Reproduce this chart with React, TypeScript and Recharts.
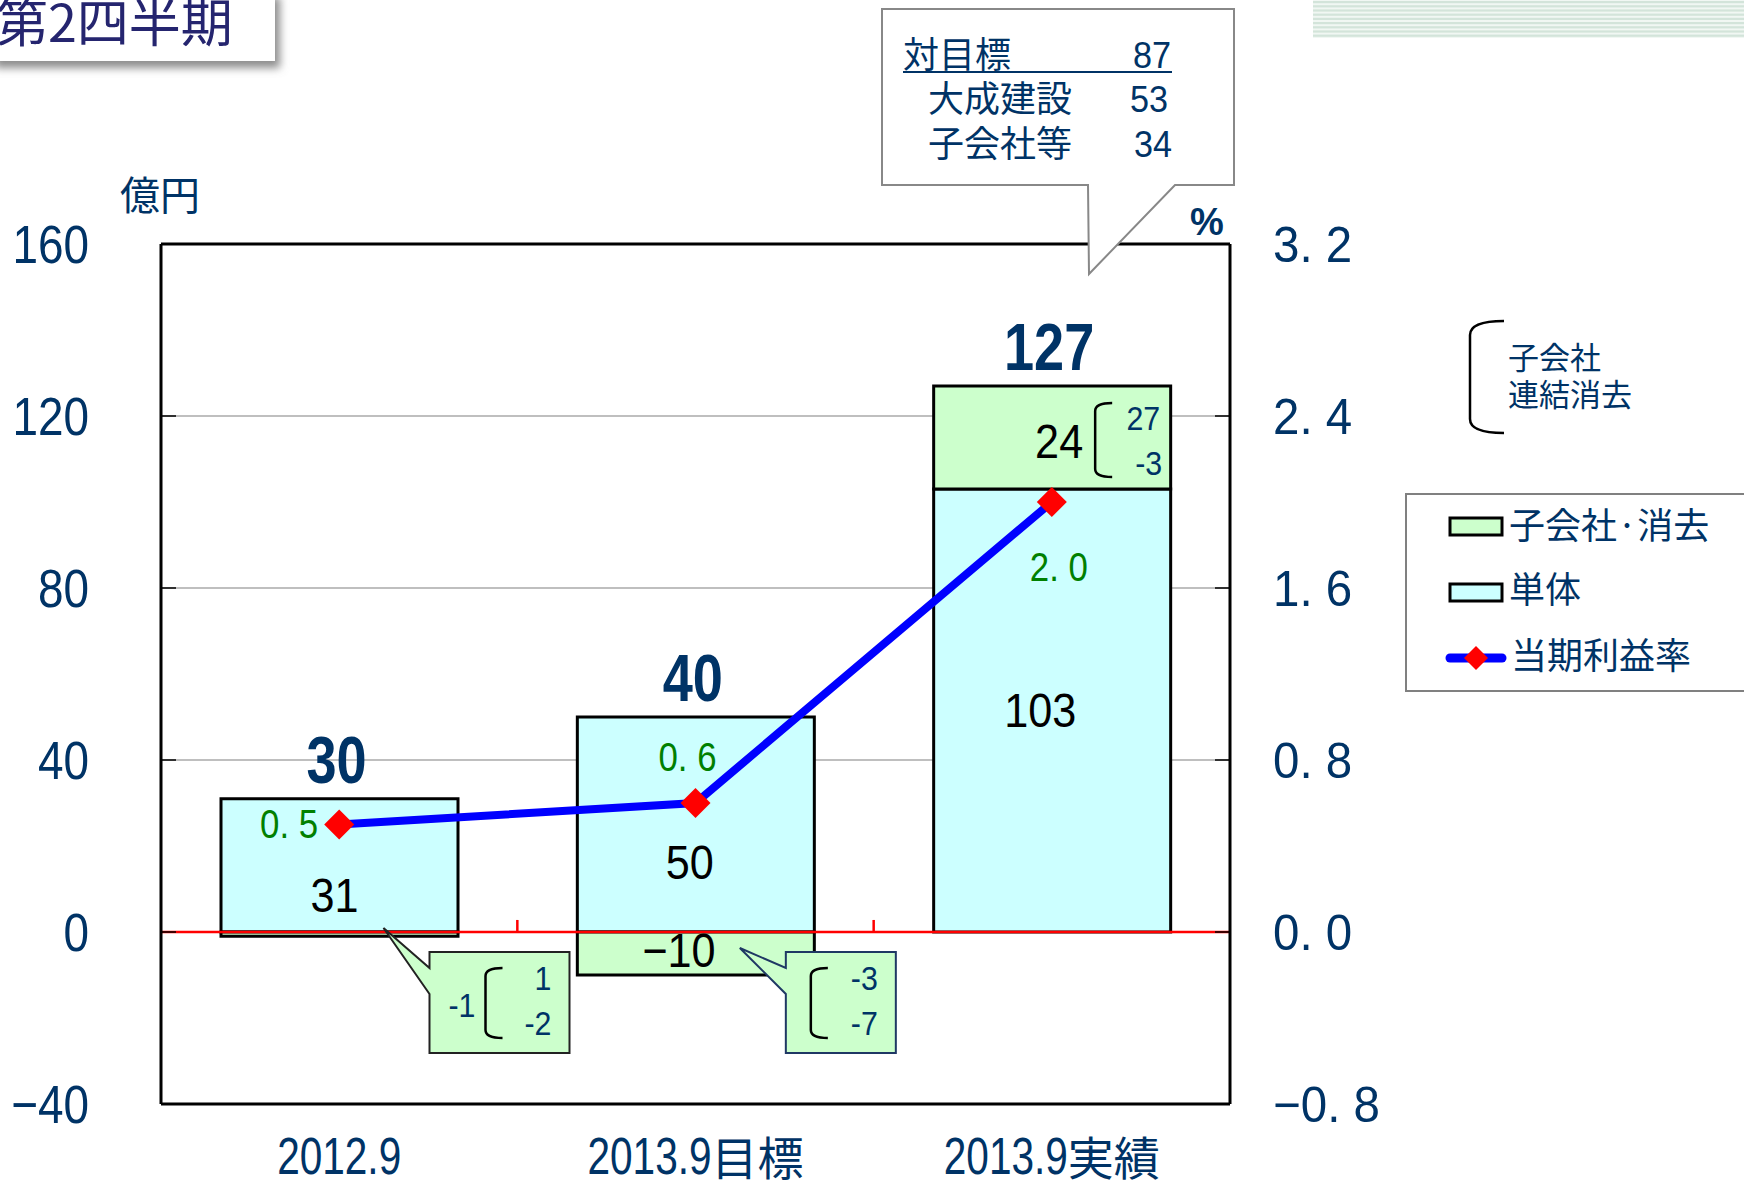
import React from 'react';
import {
  ComposedChart, Bar, Line, XAxis, YAxis, CartesianGrid, ReferenceLine, LabelList, Legend,
} from 'recharts';

// ---------- data ----------
const categories = ['2012.9', '2013.9目標', '2013.9実績'];
const standalone = [31, 50, 103];          // 単体
const subsidiaryNet = [-1, -10, 24];       // 子会社・消去
const subsidiaryProfit = [1, -3, 27];      // 子会社
const consolidationElim = [-2, -7, -3];    // 連結消去
const profitRate = [0.5, 0.6, 2.0];        // 当期利益率 (%)
const leftTicks = [-40, 0, 40, 80, 120, 160];
const rightTicks = [-0.8, 0, 0.8, 1.6, 2.4, 3.2];

const totals = standalone.map((v, i) => v + subsidiaryNet[i]);
const data = categories.map((name, i) => ({
  name, standalone: standalone[i], subsidiary: subsidiaryNet[i], rate: profitRate[i],
}));

// ---------- style / layout ----------
const NAVY = '#003366';
const GREEN_TXT = '#008000';
const NUM = '"Liberation Sans", Arial, sans-serif';
const JP = '"Noto Sans CJK JP", "Noto Sans CJK SC", sans-serif';
const rateLabelPlacement = ['left', 'top', 'bottom'];
const standaloneLabelDx = [-5, -6, -12];
const standaloneLabelDy = [47, 54, 16];

const Txt = ({ x, y, children, size, sx = 1, anchor = 'start', fill = NAVY, weight = 400, family = NUM }: any) => (
  <text
    transform={`translate(${x},${y}) scale(${sx},1)`}
    fontSize={size}
    textAnchor={anchor}
    fill={fill}
    fontWeight={weight}
    fontFamily={family}
  >
    {children}
  </text>
);

const Diamond = ({ cx, cy, r = 15 }: any) => (
  <path d={`M${cx},${cy - r}L${cx + r},${cy}L${cx},${cy + r}L${cx - r},${cy}Z`} fill="#FF0000" />
);

const Bracket = ({ x1, x2, y1, y2, r = 8 }: any) => (
  <path
    d={`M${x2},${y1} Q${x1},${y1} ${x1},${y1 + r} L${x1},${y2 - r} Q${x1},${y2} ${x2},${y2}`}
    fill="none" stroke="#000" strokeWidth={2.5}
  />
);

const getRect = (p: any) => {
  const vb = p.viewBox || p;
  const x = vb.x, y = vb.y, w = vb.width || 0, h = vb.height || 0;
  return { left: Math.min(x, x + w), right: Math.max(x, x + w), top: Math.min(y, y + h), bottom: Math.max(y, y + h) };
};

const fmtAxis = (v: number) => String(v).replace('-', '−');
const fmtPct = (v: number) => v.toFixed(1).replace('.', '. ').replace('-', '−');

const LeftTick = (p: any) => (
  <Txt x={p.x} y={p.y + 19} size={54} sx={0.85} anchor="end">{fmtAxis(p.payload.value)}</Txt>
);
const RightTick = (p: any) => (
  <Txt x={p.x} y={p.y + 18} size={50} sx={0.95} anchor="start">{fmtPct(p.payload.value)}</Txt>
);

const CatTick = (p: any) => {
  const label: string = p.payload.value;
  const m = label.match(/^[\d.]+/);
  const num = m ? m[0] : '';
  const rest = label.slice(num.length);
  const numSize = 52, sx = 0.78, jpSize = 46;
  const numW = [...num].reduce((s, c) => s + (c === '.' ? 0.278 : 0.556), 0) * numSize * sx;
  const W = numW + rest.length * jpSize;
  const x0 = p.x - W / 2;
  const base = p.y + 70;
  return (
    <g>
      <Txt x={x0} y={base} size={numSize} sx={sx}>{num}</Txt>
      {rest && <Txt x={x0 + numW} y={base + 1} size={jpSize} family={JP}>{rest}</Txt>}
    </g>
  );
};

const TotalLabel = ({ cx, top, i }: any) => (
  <Txt x={cx - 3} y={top - 16} size={66} sx={0.82} anchor="middle" weight={700}>{totals[i]}</Txt>
);

const StandaloneLabel = (p: any) => {
  const i = p.index;
  const r = getRect(p);
  const cx = (r.left + r.right) / 2;
  const cy = (r.top + r.bottom) / 2;
  return (
    <g>
      <Txt x={cx + standaloneLabelDx[i]} y={cy + standaloneLabelDy[i]} size={48} sx={0.9} anchor="middle" fill="#000">
        {standalone[i]}
      </Txt>
      {subsidiaryNet[i] <= 0 && <TotalLabel cx={cx} top={r.top} i={i} />}
    </g>
  );
};

const SubLabel = (p: any) => {
  const i = p.index;
  const r = getRect(p);
  const cx = (r.left + r.right) / 2;
  const net = subsidiaryNet[i];
  if (net > 0) {
    const top = r.top;
    return (
      <g>
        <TotalLabel cx={cx} top={top} i={i} />
        <Txt x={cx + 31} y={top + 72} size={48} sx={0.9} anchor="end" fill="#000">{net}</Txt>
        <Bracket x1={cx + 43} x2={cx + 60} y1={top + 17} y2={top + 91} />
        <Txt x={cx + 108} y={top + 44} size={33} sx={0.92} anchor="end">{subsidiaryProfit[i]}</Txt>
        <Txt x={cx + 110} y={top + 89} size={33} sx={0.92} anchor="end">{consolidationElim[i]}</Txt>
      </g>
    );
  }
  const zero = r.top;
  const big = r.bottom - r.top >= 30;
  const L = cx + 90;
  const W = big ? 110 : 140;
  const T = zero + 20;
  const B = zero + 121;
  const tipX = cx + 44;
  const tipY = big ? zero + 16 : zero - 4;
  const path = `M${L},${T} H${L + W} V${B} H${L} V${zero + 62} L${tipX},${tipY} L${L},${zero + 36} Z`;
  const bx = L + (big ? 25 : 56);
  return (
    <g>
      {big && (
        <Txt x={cx - 17} y={(r.top + r.bottom) / 2 + 13} size={48} sx={0.9} anchor="middle" fill="#000">
          {fmtAxis(net)}
        </Txt>
      )}
      <path d={path} fill="#CCFFCC" stroke={big ? '#1F3864' : '#222'} strokeWidth={2} />
      {!big && <Txt x={L + 46} y={zero + 85} size={33} sx={0.92} anchor="end">{net}</Txt>}
      <Bracket x1={bx} x2={bx + 17} y1={zero + 36} y2={zero + 106} />
      <Txt x={L + W - 18} y={zero + 58} size={33} sx={0.92} anchor="end">{subsidiaryProfit[i]}</Txt>
      <Txt x={L + W - 18} y={zero + 103} size={33} sx={0.92} anchor="end">{consolidationElim[i]}</Txt>
    </g>
  );
};

const RateLabel = (p: any) => {
  const vb = p.viewBox || p;
  const cx = vb.x ?? p.x;
  const cy = vb.y ?? p.y;
  const i = p.index;
  const pl = rateLabelPlacement[i];
  let x = cx, y = cy, anchor = 'middle';
  if (pl === 'left') { x = cx - 21; y = cy + 13; anchor = 'end'; }
  else if (pl === 'top') { x = cx - 8; y = cy - 32; }
  else { x = cx + 7; y = cy + 79; }
  return <Txt x={x} y={y} size={40} sx={0.87} anchor={anchor} fill={GREEN_TXT}>{fmtPct(profitRate[i])}</Txt>;
};

const renderLegend = () => (
  <svg width={339} height={200} style={{ display: 'block' }}>
    <rect x={1} y={1} width={400} height={197} fill="#fff" stroke="#808080" strokeWidth={2} />
    <rect x={45} y={25} width={52} height={17} fill="#CCFFCC" stroke="#000" strokeWidth={3} />
    <text x={104} y={46} fontSize={36} fontFamily={JP} fill={NAVY}>子会社·消去</text>
    <rect x={45} y={91} width={52} height={17} fill="#CCFFFF" stroke="#000" strokeWidth={3} />
    <text x={104} y={110} fontSize={36} fontFamily={JP} fill={NAVY}>単体</text>
    <line x1={45} y1={165} x2={97} y2={165} stroke="#0000FF" strokeWidth={9} strokeLinecap="round" />
    <Diamond cx={71} cy={165} r={12} />
    <text x={106} y={176} fontSize={36} fontFamily={JP} fill={NAVY}>当期利益率</text>
  </svg>
);

const Overlay = () => {
  const tgtTotal = totals[2] - totals[1];
  const tgtParent = standalone[2] - standalone[1];
  const tgtSub = subsidiaryNet[2] - subsidiaryNet[1];
  const stripes = Array.from({ length: 9 }, (_, k) => k);
  return (
    <svg width={1744} height={1183} style={{ position: 'absolute', left: 0, top: 0, pointerEvents: 'none' }}>
      <defs>
        <filter id="shadow" x="-10%" y="-20%" width="130%" height="160%">
          <feDropShadow dx={5} dy={7} stdDeviation={4} floodColor="#808080" floodOpacity={0.9} />
        </filter>
      </defs>
      {/* title */}
      <rect x={-10} y={-10} width={285} height={71} fill="#fff" filter="url(#shadow)" />
      <text x={-4} y={42} fontSize={52} fontFamily={JP} fill="#25256F">第2四半期</text>
      {/* stripes top-right */}
      <rect x={1313} y={0} width={431} height={38} fill="#F1F7F3" />
      {stripes.map((k) => (
        <rect key={k} x={1313} y={k * 4.2 + 1} width={431} height={2.2} fill="#D3E4DA" />
      ))}
      {/* axis units */}
      <text x={120} y={210} fontSize={40} fontFamily={JP} fill={NAVY}>億円</text>
      <text x={1190} y={235} fontSize={38} fontFamily={NUM} fontWeight={700} fill={NAVY}>%</text>
      {/* target callout */}
      <path d="M882,9 H1234 V185 H1175 L1089,274 L1088,185 H882 Z" fill="#fff" stroke="#888" strokeWidth={2} />
      <text x={903} y={68} fontSize={36} fontFamily={JP} fill={NAVY}>対目標</text>
      <Txt x={1171} y={68} size={36} sx={0.95} anchor="end">{tgtTotal}</Txt>
      <line x1={903} y1={72} x2={1172} y2={72} stroke={NAVY} strokeWidth={2} />
      <text x={928} y={112} fontSize={36} fontFamily={JP} fill={NAVY}>大成建設</text>
      <Txt x={1168} y={112} size={36} sx={0.95} anchor="end">{tgtParent}</Txt>
      <text x={928} y={157} fontSize={36} fontFamily={JP} fill={NAVY}>子会社等</text>
      <Txt x={1172} y={157} size={36} sx={0.95} anchor="end">{tgtSub}</Txt>
      {/* bracket note */}
      <Bracket x1={1470} x2={1504} y1={321} y2={433} r={14} />
      <text x={1508} y={369} fontSize={31} fontFamily={JP} fill={NAVY}>子会社</text>
      <text x={1508} y={406} fontSize={31} fontFamily={JP} fill={NAVY}>連結消去</text>
    </svg>
  );
};

export default function App() {
  return (
    <div style={{ position: 'absolute', left: 0, top: 0, width: 1744, height: 1183, overflow: 'hidden', background: '#fff' }}>
      <ComposedChart
        width={1744}
        height={1183}
        data={data}
        margin={{ top: 244, right: 364, bottom: 9, left: 11 }}
        stackOffset="sign"
        barGap={0}
      >
        <CartesianGrid yAxisId="left" vertical={false} stroke="#BFBFBF" strokeWidth={2} />
        <XAxis
          dataKey="name"
          height={70}
          axisLine={false}
          tickLine={false}
          tickSize={0}
          tickMargin={0}
          interval={0}
          tick={<CatTick />}
        />
        <YAxis
          yAxisId="left"
          width={150}
          domain={[-40, 160]}
          ticks={leftTicks}
          allowDataOverflow
          axisLine={{ stroke: '#000', strokeWidth: 3 }}
          tickLine={{ stroke: '#000', strokeWidth: 1.5 }}
          tickSize={-15}
          tickMargin={87}
          tick={<LeftTick />}
        />
        <YAxis
          yAxisId="right"
          orientation="right"
          width={150}
          domain={[-0.8, 3.2]}
          ticks={rightTicks}
          allowDataOverflow
          axisLine={{ stroke: '#000', strokeWidth: 3 }}
          tickLine={{ stroke: '#000', strokeWidth: 1.5 }}
          tickSize={-15}
          tickMargin={58}
          tick={<RightTick />}
        />
        <Bar yAxisId="left" dataKey="standalone" stackId="a" fill="#CCFFFF" stroke="#000" strokeWidth={3}
          barSize={237} isAnimationActive={false}>
          <LabelList content={(p: any) => <StandaloneLabel {...p} />} />
        </Bar>
        <Bar yAxisId="left" dataKey="subsidiary" stackId="a" fill="#CCFFCC" stroke="#000" strokeWidth={3}
          barSize={237} isAnimationActive={false}>
          <LabelList content={(p: any) => <SubLabel {...p} />} />
        </Bar>
        <ReferenceLine yAxisId="left" y={160} stroke="#000" strokeWidth={3} />
        <ReferenceLine yAxisId="left" y={-40} stroke="#000" strokeWidth={3} />
        <ReferenceLine yAxisId="left" y={0} stroke="#FF0000" strokeWidth={2.5} />
        {categories.slice(1).map((c) => (
          <ReferenceLine key={c} yAxisId="left" stroke="#FF0000" strokeWidth={2.5} position="start"
            segment={[{ x: c, y: 0 }, { x: c, y: 2.8 }]} />
        ))}
        <Line yAxisId="right" dataKey="rate" stroke="#0000FF" strokeWidth={8} isAnimationActive={false}
          dot={(p: any) => <Diamond key={p.index} cx={p.cx} cy={p.cy} />} activeDot={false}>
          <LabelList content={(p: any) => <RateLabel {...p} />} />
        </Line>
        <Legend
          layout="vertical"
          align="center"
          verticalAlign="middle"
          content={renderLegend}
          wrapperStyle={{ position: 'absolute', left: 1405, top: 493, width: 339, height: 200 }}
        />
      </ComposedChart>
      <Overlay />
    </div>
  );
}
